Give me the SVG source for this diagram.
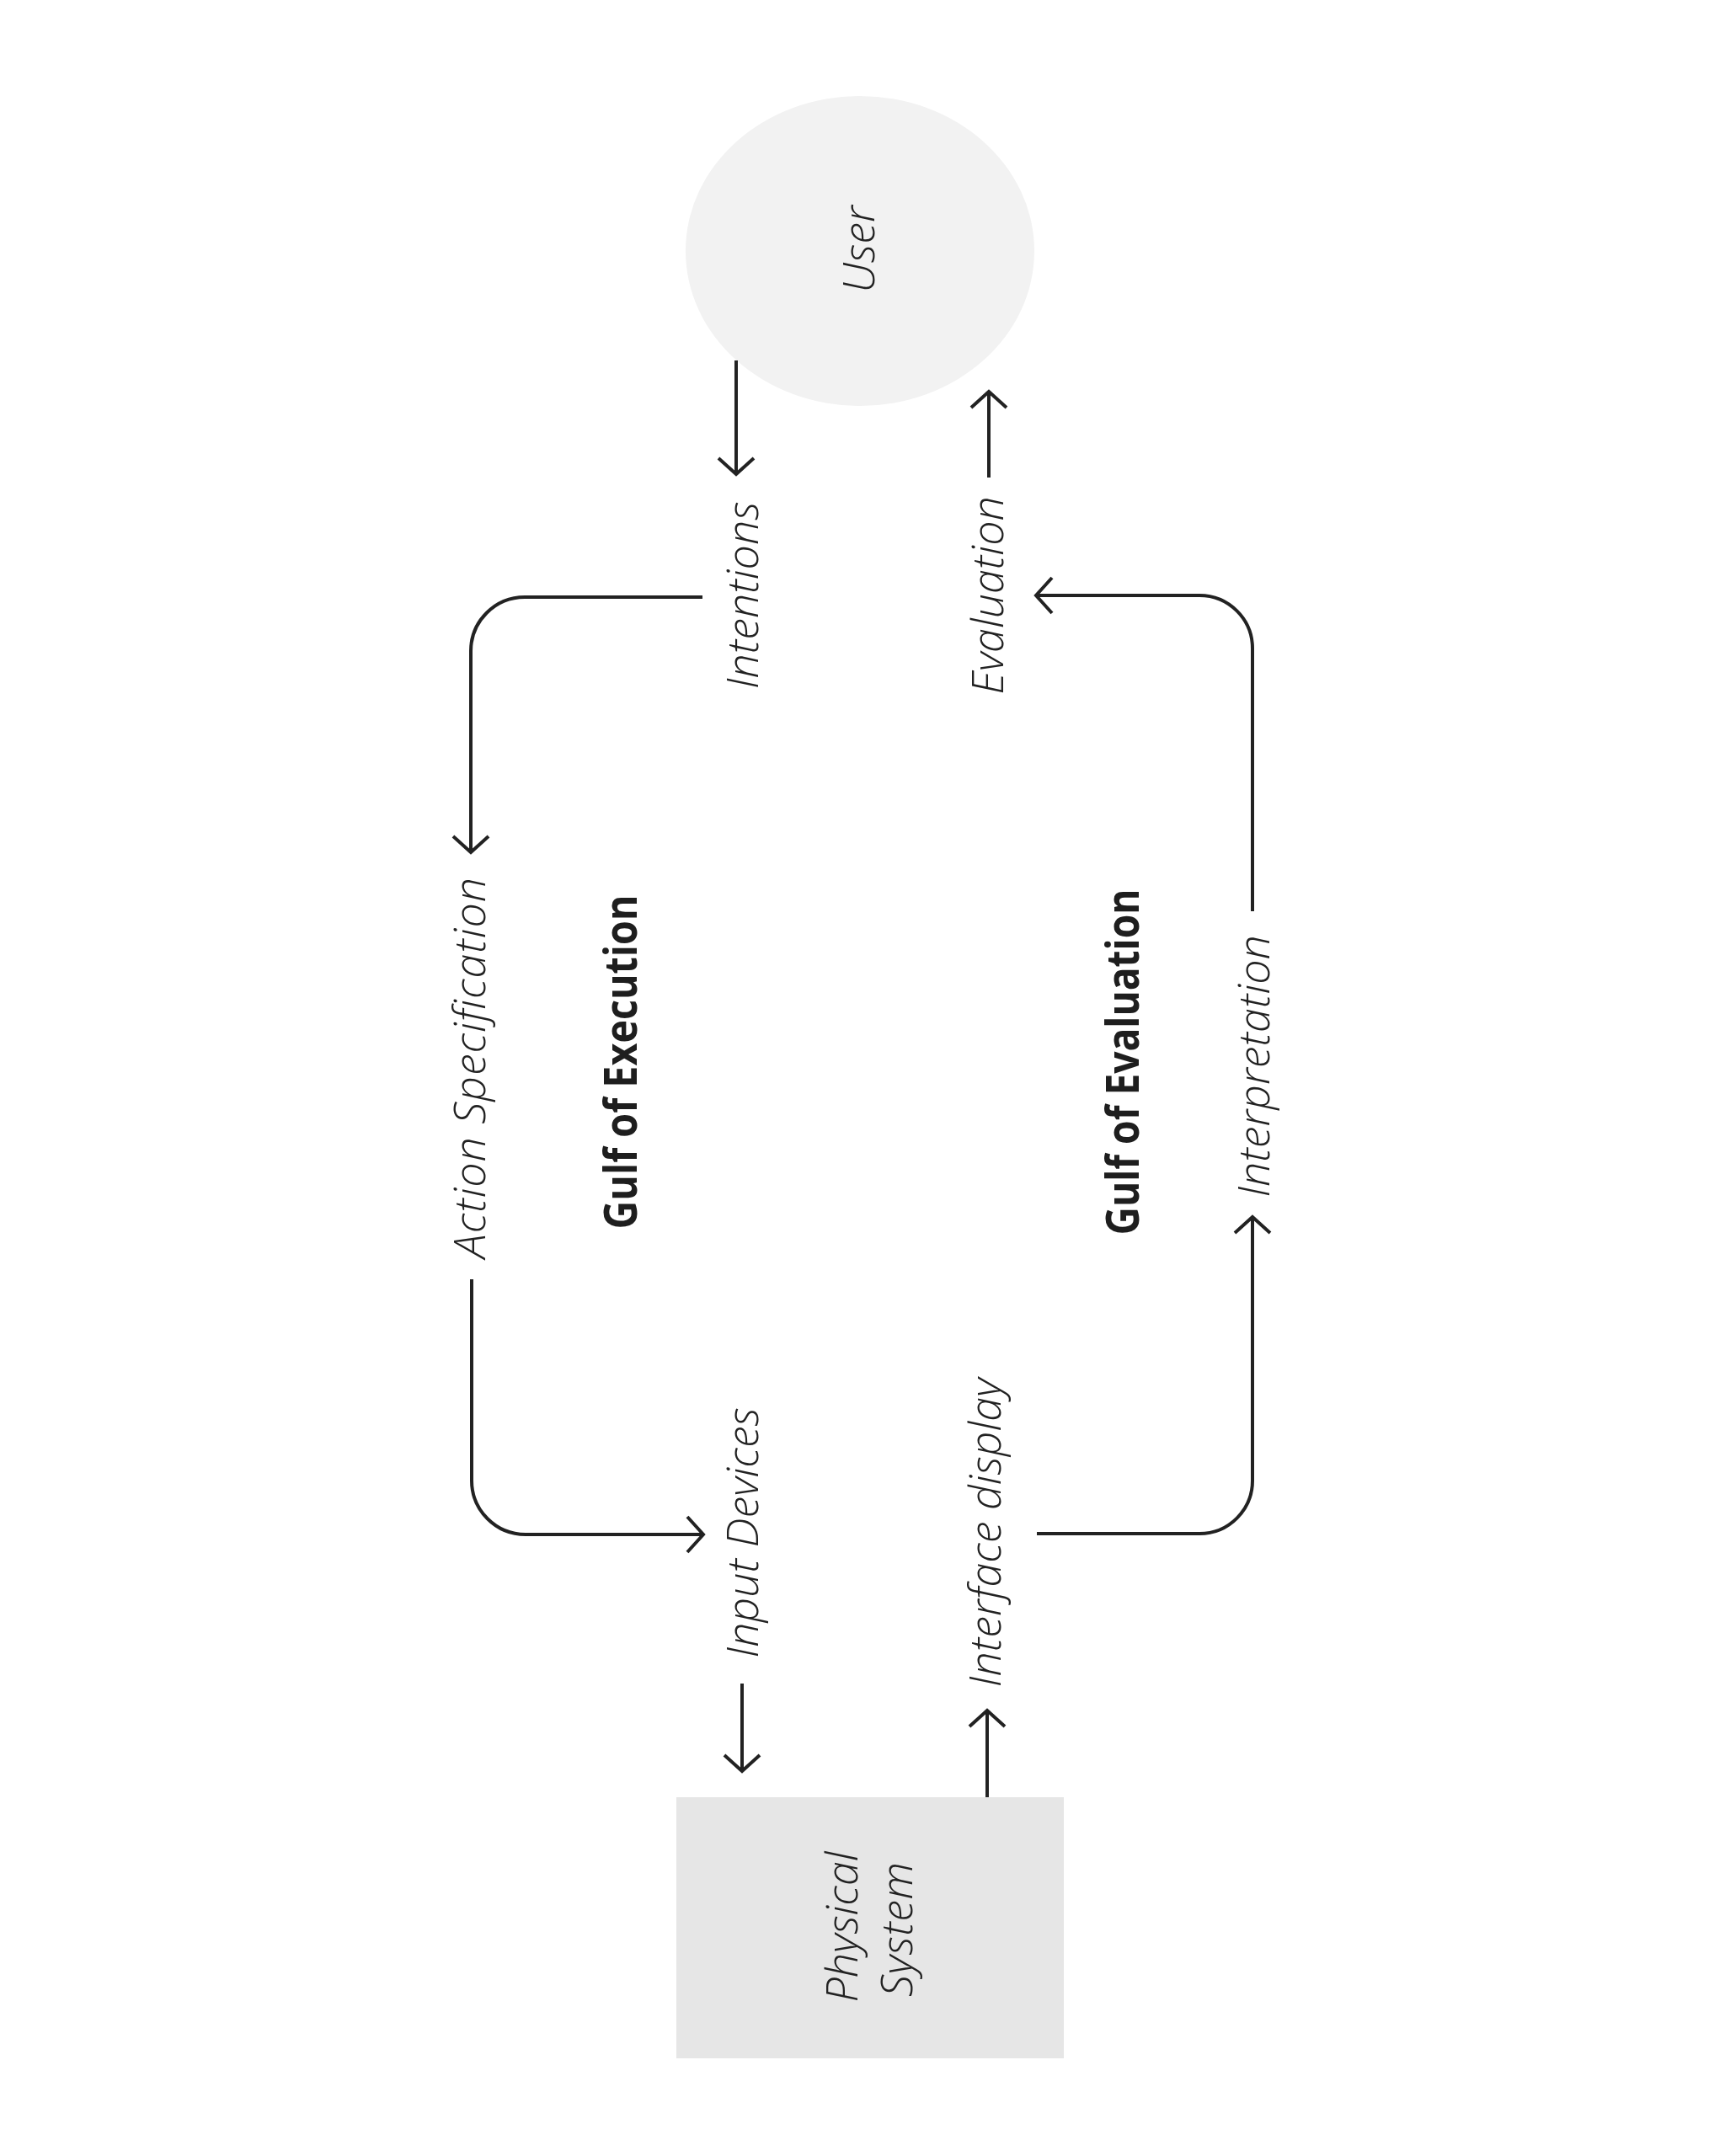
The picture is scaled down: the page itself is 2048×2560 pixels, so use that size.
<svg xmlns="http://www.w3.org/2000/svg" width="2048" height="2560" viewBox="0 0 2048 2560">
<style>
.lbl{font-family:"Open Sans","Liberation Sans",sans-serif;font-style:italic;font-weight:300;font-size:52px;fill:#222;text-anchor:middle}
.gulf{font-family:"Open Sans","Liberation Sans",sans-serif;font-weight:700;font-size:53px;fill:#1e1e1e;text-anchor:middle}
.conn{fill:none;stroke:#222;stroke-width:4;marker-end:url(#arr)}
</style>
<defs>
<marker id="arr" markerUnits="userSpaceOnUse" orient="auto" refX="0" refY="0" markerWidth="60" markerHeight="60" viewBox="-30 -30 60 60" overflow="visible">
<path d="M-19,-21 L0,0 L-19,21" fill="none" stroke="#222" stroke-width="4"/>
</marker>
</defs>
<rect width="2048" height="2560" fill="#fff"/>
<g id="user">
<ellipse cx="1021" cy="298" rx="207" ry="184" fill="#f2f2f2"/>
<text class="lbl" transform="translate(1038,296) rotate(-90)">User</text>
</g>
<g id="physical-system">
<rect x="803" y="2134" width="460" height="310" fill="#e6e6e6"/>
<text class="lbl" transform="translate(1018,2288) rotate(-90)">Physical</text>
<text class="lbl" transform="translate(1083,2291) rotate(-90)" textLength="160" lengthAdjust="spacing">System</text>
</g>
<g id="intentions"><text class="lbl" transform="translate(900,707) rotate(-90)">Intentions</text></g>
<g id="evaluation"><text class="lbl" transform="translate(1191,707) rotate(-90)">Evaluation</text></g>
<g id="action-specification"><text class="lbl" transform="translate(576,1268) rotate(-90)" textLength="452" lengthAdjust="spacing">Action Specification</text></g>
<g id="interpretation"><text class="lbl" transform="translate(1507,1266) rotate(-90)">Interpretation</text></g>
<g id="input-devices"><text class="lbl" transform="translate(900,1820) rotate(-90)">Input Devices</text></g>
<g id="interface-display"><text class="lbl" transform="translate(1188,1820) rotate(-90)">Interface display</text></g>
<g id="gulf-execution"><text class="gulf" transform="translate(756,1261) rotate(-90)" textLength="397" lengthAdjust="spacingAndGlyphs">Gulf of Execution</text></g>
<g id="gulf-evaluation"><text class="gulf" transform="translate(1352,1261) rotate(-90)" textLength="411" lengthAdjust="spacingAndGlyphs">Gulf of Evaluation</text></g>
<g id="connectors">
<path class="conn" d="M874,428 V563"/>
<path class="conn" d="M1174,567 V465"/>
<path class="conn" d="M834,709 H623 A64,64 0 0 0 559,773 V1012"/>
<path class="conn" d="M560,1519 V1758 A64,64 0 0 0 624,1822 H835"/>
<path class="conn" d="M1231,1821 H1424 A63,63 0 0 0 1487,1758 V1445"/>
<path class="conn" d="M1487,1082 V770 A63,63 0 0 0 1424,707 H1230"/>
<path class="conn" d="M881,1999 V2103"/>
<path class="conn" d="M1172,2134 V2031"/>
</g>
</svg>
